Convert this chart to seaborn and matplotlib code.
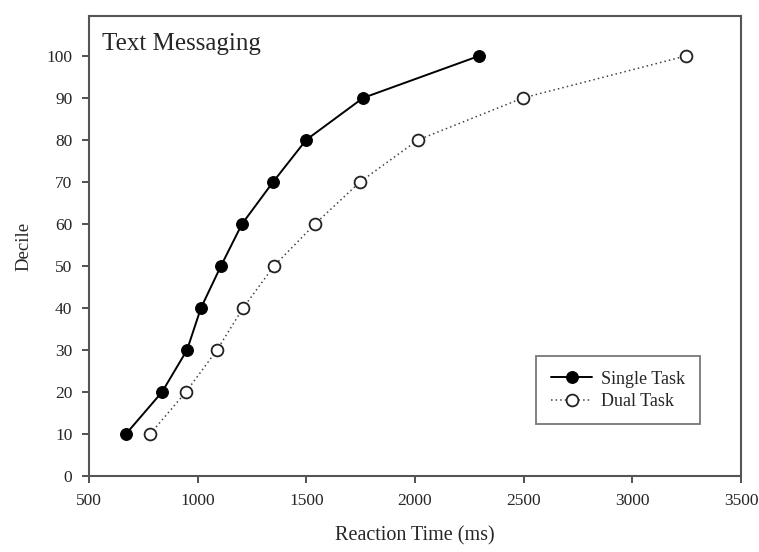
import matplotlib
matplotlib.use('Agg')
import matplotlib.pyplot as plt
import seaborn as sns
import pandas as pd

deciles = [10, 20, 30, 40, 50, 60, 70, 80, 90, 100]
single_rt = [670, 836, 951, 1015, 1107, 1204, 1347, 1499, 1761, 2295]
dual_rt = [781, 946, 1089, 1209, 1351, 1540, 1747, 2014, 2497, 3247]

sns.set_style('ticks')
plt.rcParams['font.family'] = ['Liberation Serif', 'DejaVu Serif']

single = pd.DataFrame({'rt': single_rt, 'decile': deciles})
dual = pd.DataFrame({'rt': dual_rt, 'decile': deciles})

fig = plt.figure(figsize=(7.59, 5.52), dpi=100)
ax = fig.add_axes([0.1173, 0.1377, 0.8590, 0.8333])

sns.lineplot(data=single, x='rt', y='decile', ax=ax, color='black', lw=1.4,
             marker='o', markersize=8.5, markerfacecolor='black',
             markeredgecolor='black', label='Single Task', sort=False)
sns.lineplot(data=dual, x='rt', y='decile', ax=ax, color='#444444', lw=1.1,
             linestyle=(0, (1, 2)), marker='o', markersize=8.5,
             markerfacecolor='white', markeredgecolor='#222222',
             markeredgewidth=1.3, label='Dual Task', sort=False)

ax.set_xlim(500, 3500)
ax.set_ylim(0, 109.5)
ax.set_xticks(range(500, 3501, 500))
ax.set_yticks(range(0, 101, 10))
ax.tick_params(axis='both', labelsize=12.5, length=5, width=1.2, color='#333333')
ax.tick_params(axis='x', pad=7.5)
ax.tick_params(axis='y', pad=7)

for s in ax.spines.values():
    s.set_visible(True)
    s.set_color('#555555')
    s.set_linewidth(1.5)

ax.set_xlabel('Reaction Time (ms)', fontsize=14.5, labelpad=12)
ax.set_ylabel('Decile', fontsize=13.5, labelpad=10)

ax.text(0.02, 0.963, 'Text Messaging', transform=ax.transAxes,
        fontsize=18, va='top', ha='left')

leg = ax.legend(loc='lower right', bbox_to_anchor=(0.937, 0.112), fontsize=13,
                frameon=True, fancybox=False, edgecolor='#555555',
                handlelength=2.3, borderpad=0.8, labelspacing=0.3,
                handletextpad=0.5, borderaxespad=0)
leg.get_frame().set_linewidth(1.3)

fig.savefig('out.png', dpi=100)
